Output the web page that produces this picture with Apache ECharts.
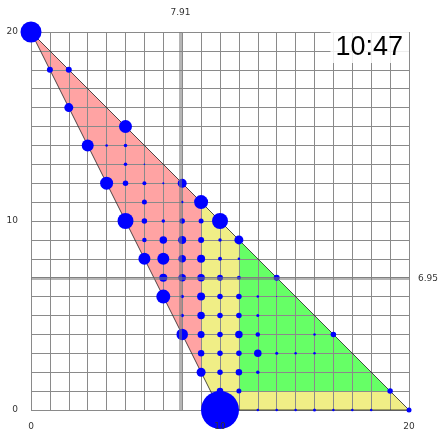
<!DOCTYPE html>
<html><head><meta charset="utf-8">
<script src="https://cdn.jsdelivr.net/npm/echarts@6/dist/echarts.min.js"></script>
<style>html,body{margin:0;padding:0;background:#fff}#c{width:439px;height:431px}</style>
</head><body><div id="c"></div>
<script>
// Axis range / ticks
const axisMin = 0, axisMax = 20;
const gridStep = 1, labelStep = 10;
// Reference lines
const refX = 7.91, refY = 6.95;
// Clock text
const clockText = '10:47';
// Regions (polygon vertices in data coords)
const triangle = [[0,20],[10,0],[20,0]];
const pinkRegion = [[0,20],[9,11],[9,2]];
const yellowRegion = [[9,11],[11,9],[11,1],[19,1],[20,0],[10,0],[9,2]];
const greenRegion = [[11,9],[11,1],[19,1]];
// Points
const pointX = [0,1,2,2,5,3,4,5,5,6,4,5,6,7,8,6,8,9,5,6,7,8,9,10,6,7,8,9,10,11,6,7,8,9,10,11,7,8,9,10,11,13,7,8,9,10,11,12,13,8,9,10,11,12,8,9,10,11,12,15,16,9,10,11,12,13,14,15,9,10,11,12,10,11,19,10,12,13,14,15,16,17,18,20];
const pointY = [20,18,18,16,15,14,14,14,13,13,12,12,12,12,12,11,11,11,10,10,10,10,10,10,9,9,9,9,9,9,8,8,8,8,8,8,7,7,7,7,7,7,6,6,6,6,6,6,6,5,5,5,5,5,4,4,4,4,4,4,4,3,3,3,3,3,3,3,2,2,2,2,1,1,1,0,0,0,0,0,0,0,0,0];
const pointSize = [21,6,6,9,13,12,2.5,3.5,3.5,1.5,13,5.5,4,2,9,5,2.5,14,16,5.5,3.5,5.5,5,16,4.5,7.5,8,6,3.5,9,12,12,7.5,8,4,2.5,8,7.5,7.5,6,4,6,14,3.5,8,5.5,5.5,2.5,1,3.5,7.5,5.5,5.5,3,11.5,7,5.5,7.5,4.5,2.5,5.5,6.5,5.5,5.5,7.5,3,2.5,2.5,9,5.5,6.5,3.5,6.5,5,5.5,38,2.5,2.5,2.5,3,2.5,2.5,2.5,5];

const chart = echarts.init(document.getElementById('c'));
function poly(pts, style, z) {
  return {
    type: 'custom', z: z, silent: true, xAxisIndex: 0, yAxisIndex: 0,
    data: [pts[0]],
    renderItem: function (params, api) {
      return { type: 'polygon', shape: { points: pts.map(function (p) { return api.coord(p); }) }, style: style };
    }
  };
}
const gridAxisCommon = {
  type: 'value', min: axisMin, max: axisMax, interval: gridStep,
  axisLine: { show: false }, axisTick: { show: false }, axisLabel: { show: false },
  splitLine: { show: true, lineStyle: { color: '#8a8a8a', width: 1 } }
};
const labelAxisCommon = {
  type: 'value', min: axisMin, max: axisMax, interval: labelStep, z: 20,
  axisLine: { show: false }, axisTick: { show: false }, splitLine: { show: false },
  axisLabel: { show: true, color: '#333', fontSize: 9, fontFamily: 'DejaVu Sans' }
};
const scatterData = pointX.map(function (x, i) { return [x, pointY[i], pointSize[i]]; });
chart.setOption({
  animation: false,
  title: {
    text: clockText, right: 30, top: 32, padding: [2, 6, 2, 5],
    backgroundColor: 'rgba(255,255,255,0.85)',
    textStyle: { fontSize: 27, fontWeight: 'normal', color: '#000', fontFamily: 'Liberation Sans' }
  },
  grid: { left: 31, right: 30, top: 32, bottom: 21, containLabel: false },
  xAxis: [
    Object.assign({}, gridAxisCommon, { position: 'bottom' }),
    Object.assign({}, labelAxisCommon, { position: 'bottom', offset: 0, axisLabel: Object.assign({}, labelAxisCommon.axisLabel, { margin: 12 }) })
  ],
  yAxis: [
    Object.assign({}, gridAxisCommon, { position: 'left' }),
    Object.assign({}, labelAxisCommon, { position: 'left', offset: 0, axisLabel: Object.assign({}, labelAxisCommon.axisLabel, { margin: 13 }) })
  ],
  series: [
    poly(pinkRegion, { fill: '#ffa3a3' }, -1),
    poly(yellowRegion, { fill: '#f0ee86' }, -1),
    poly(greenRegion, { fill: '#66ff66' }, -1),
    poly(triangle, { fill: 'none', stroke: '#222', lineWidth: 0.8 }, 1),
    {
      type: 'scatter', z: 1, silent: true, data: [],
      markLine: {
        silent: true, symbol: 'none', animation: false,
        lineStyle: { color: 'rgba(120,120,120,0.55)', width: 3, type: 'solid' },
        label: { show: true, position: 'end', color: '#333', fontSize: 9, fontFamily: 'DejaVu Sans', formatter: function (p) { return String(p.value); } },
        data: [
          { xAxis: refX, label: { distance: 15 } },
          { yAxis: refY, label: { distance: 9 } }
        ]
      }
    },
    {
      type: 'scatter', z: 3, silent: true,
      data: scatterData,
      symbol: 'circle',
      symbolSize: function (v) { return v[2]; },
      itemStyle: { color: '#0000ff', opacity: 1 }
    }
  ]
});
</script></body></html>
